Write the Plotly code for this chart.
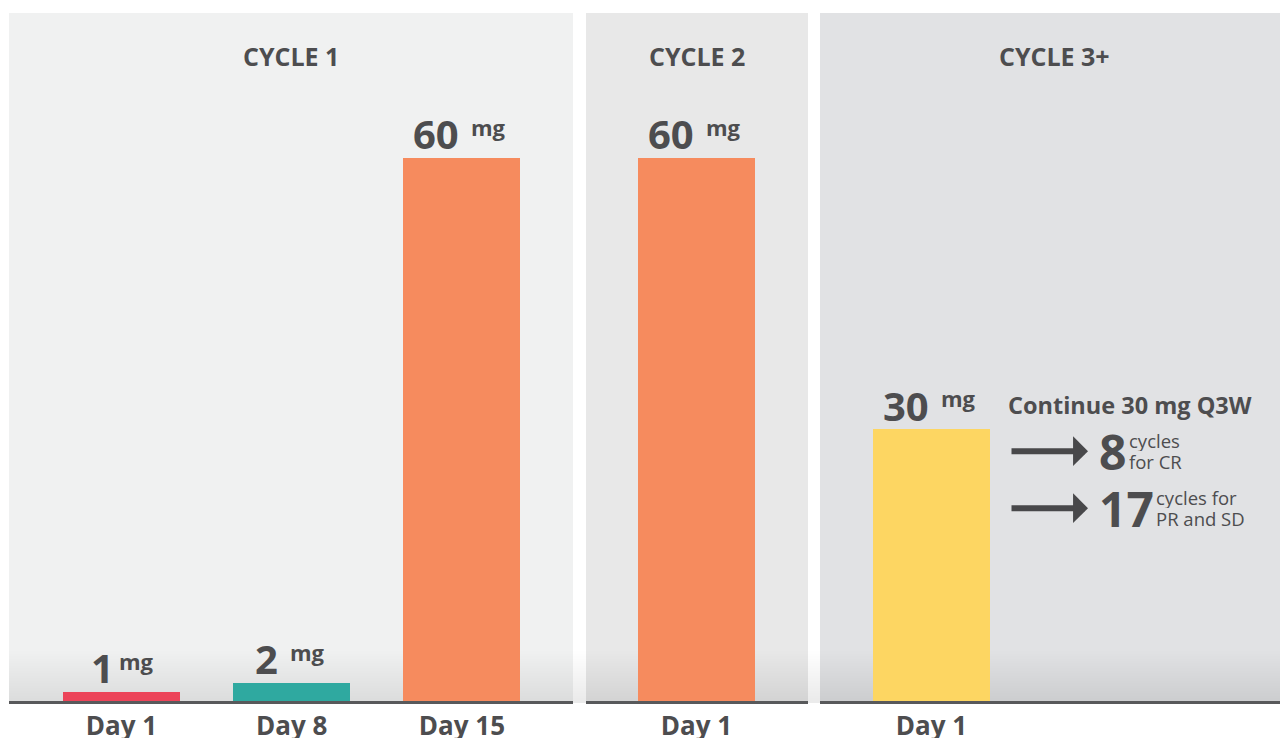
import plotly.graph_objects as go

# ---------------- data ----------------
cycle_titles = ["CYCLE 1", "CYCLE 2", "CYCLE 3+"]
c1_days = ["Day 1", "Day 8", "Day 15"]
c1_doses = [1, 2, 60]
c2_days = ["Day 1"]
c2_doses = [60]
c3_days = ["Day 1"]
c3_doses = [30]
c1_colors = ["#ec4459", "#2fa9a0", "#f68b5e"]
c2_colors = ["#f68b5e"]
c3_colors = ["#fdd662"]
dose_unit = "mg"
continue_text = "Continue 30 mg Q3W"
duration_counts = ["8", "17"]
duration_lines = [["cycles", "for CR"], ["cycles for", "PR and SD"]]
duration_levels = [27.6, 21.3]  # mg-scale height of each arrow row

# ---------------- style ----------------
FONT = "Open Sans"
TXT = "#4d4d4f"
panel_bg = ["#f0f1f1", "#e8e8e8", "#e1e2e4"]
domains = [[0.0, 0.44097], [0.45113, 0.62471], [0.63409, 1.0]]
ranges = [[-0.66, 2.652], [-0.649, 0.655], [-0.655, 2.094]]
BAR_W = 0.687
P3_W = 468.0  # pixel width of the third panel

fig = go.Figure()
panels = [(c1_days, c1_doses, c1_colors), (c2_days, c2_doses, c2_colors), (c3_days, c3_doses, c3_colors)]
axis_ids = ["x", "x2", "x3"]
for i, (days, doses, cols) in enumerate(panels):
    fig.add_trace(go.Bar(x=days, y=doses, marker=dict(color=cols, line=dict(width=0)),
                         width=[BAR_W] * len(days), xaxis=axis_ids[i], yaxis="y",
                         showlegend=False, hoverinfo="x+y"))

shapes = []
for i in range(3):
    ref = ("x" if i == 0 else f"x{i+1}") + " domain"
    shapes.append(dict(type="rect", xref=ref, yref="paper", x0=0, x1=1, y0=0, y1=1,
                       fillcolor=panel_bg[i], line=dict(width=0), layer="below"))
# bottom shading
for k in range(1, 21):
    shapes.append(dict(type="rect", xref="paper", yref="paper", x0=0, x1=1, y0=-0.003, y1=0.0036 * k,
                       fillcolor="rgba(165,168,190,0.017)", line=dict(width=0), layer="below"))

annotations = []
for i, t in enumerate(cycle_titles):
    ref = ("x" if i == 0 else f"x{i+1}") + " domain"
    annotations.append(dict(text=f"<b>{t}</b>", xref=ref, yref="paper", x=0.5, y=0.9375,
                            xanchor="center", yanchor="middle",
                            showarrow=False, font=dict(family=FONT, size=25, color=TXT)))

# value labels
for i, (days, doses, cols) in enumerate(panels):
    xr = axis_ids[i]
    for d, v in zip(days, doses):
        s = str(v)
        num_w = 23 * len(s)
        total = num_w + 13 + 34
        right = -total / 2 + num_w
        annotations.append(dict(text=f"<b>{s}</b>", xref=xr, yref="y", x=d, y=v,
                                xanchor="right", yanchor="middle", xshift=right + (7 if s == "1" else 0),
                                yshift=24,
                                showarrow=False, font=dict(family=FONT, size=40, color=TXT)))
        annotations.append(dict(text=f"<b>{dose_unit}</b>", xref=xr, yref="y", x=d, y=v,
                                xanchor="left", yanchor="middle", xshift=right + 8, yshift=31,
                                showarrow=False, font=dict(family=FONT, size=22, color=TXT)))

# cycle 3 notes
annotations.append(dict(text=f"<b>{continue_text}</b>", xref="x3 domain", yref="y", x=0.398, y=32.7,
                        xanchor="left", yanchor="middle", showarrow=False,
                        font=dict(family=FONT, size=23.5, color=TXT)))
NUM_X = 277 / P3_W
for cnt, lines, lvl in zip(duration_counts, duration_lines, duration_levels):
    annotations.append(dict(text="", xref="x3 domain", yref="y", x=268 / P3_W, y=lvl,
                            axref="pixel", ayref="pixel", ax=-78, ay=0, showarrow=True,
                            arrowhead=1, arrowsize=0.83, arrowwidth=6, arrowcolor="#48484a",
                            standoff=0))
    annotations.append(dict(text=f"<b>{cnt}</b>", xref="x3 domain", yref="y", x=NUM_X, y=lvl,
                            xanchor="left", yanchor="middle", showarrow=False,
                            font=dict(family=FONT, size=48, color=TXT)))
    small_x = NUM_X + (27 * len(cnt) + 3) / P3_W
    for j, ln in enumerate(lines):
        annotations.append(dict(text=ln, xref="x3 domain", yref="y",
                                x=small_x, y=lvl, yshift=(11 - 21 * j), height=21,
                                xanchor="left", yanchor="middle", showarrow=False, align="left",
                                font=dict(family=FONT, size=18.5, color=TXT)))

axis_common = dict(type="category", showgrid=False, zeroline=False, showline=True,
                   linecolor="#58595b", linewidth=3, ticks="", anchor="y", automargin=False,
                   tickfont=dict(family=FONT, size=26, color=TXT, weight="bold"),
                   fixedrange=True)
fig.update_layout(
    width=1280, height=730,
    margin=dict(l=1, r=0, t=5, b=37),
    paper_bgcolor="white", plot_bgcolor="rgba(0,0,0,0)",
    xaxis=dict(domain=domains[0], range=ranges[0], **axis_common),
    xaxis2=dict(domain=domains[1], range=ranges[1], **axis_common),
    xaxis3=dict(domain=domains[2], range=ranges[2], **axis_common),
    yaxis=dict(range=[0, 76], visible=False, fixedrange=True),
    shapes=shapes, annotations=annotations, bargap=0,
)
fig.write_html("out.html")
